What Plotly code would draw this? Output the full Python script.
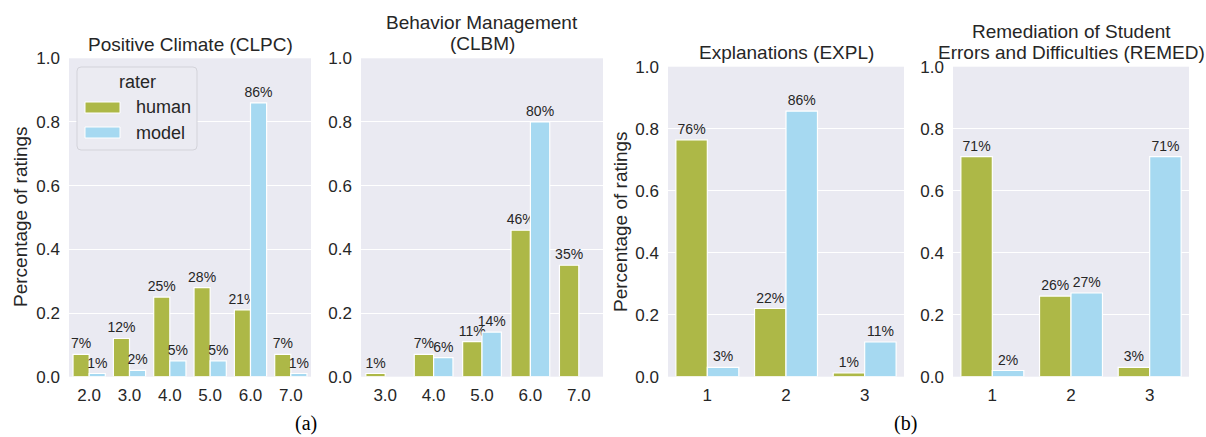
import plotly.graph_objects as go

# ---------------- data ----------------
clpc_cats = ["2.0", "3.0", "4.0", "5.0", "6.0", "7.0"]
clpc_human = [0.07, 0.12, 0.25, 0.28, 0.21, 0.07]
clpc_model = [0.01, 0.02, 0.05, 0.05, 0.86, 0.01]

clbm_cats = ["3.0", "4.0", "5.0", "6.0", "7.0"]
clbm_human = [0.01, 0.07, 0.11, 0.46, 0.35]
clbm_model = [None, 0.06, 0.14, 0.80, None]

expl_cats = ["1", "2", "3"]
expl_human = [0.764, 0.22, 0.012]
expl_model = [0.03, 0.857, 0.112]

remed_cats = ["1", "2", "3"]
remed_human = [0.71, 0.26, 0.03]
remed_model = [0.02, 0.27, 0.71]

series_names = ["human", "model"]
panel_titles = [["Positive Climate (CLPC)"],
                ["Behavior Management", "(CLBM)"],
                ["Explanations (EXPL)"],
                ["Remediation of Student", "Errors and Difficulties (REMED)"]]
y_ticks = [0.0, 0.2, 0.4, 0.6, 0.8, 1.0]
y_title = "Percentage of ratings"
legend_title = "rater"
group_labels = ["(a)", "(b)"]

# ---------------- style ----------------
W, H = 1206, 437
HUMAN_C = "#adb847"
MODEL_C = "#a6d9f1"
BG = "#eaeaf2"
TXT = "#262626"
FONT = "Liberation Sans, Arial, sans-serif"


def px(x):
    return x / W


def py(y):
    return 1 - y / H


panels = [
    (clpc_cats, clpc_human, clpc_model, (69, 311), (58.3, 376.7)),
    (clbm_cats, clbm_human, clbm_model, (361, 603), (58.3, 376.7)),
    (expl_cats, expl_human, expl_model, (668, 904), (66.7, 376.7)),
    (remed_cats, remed_human, remed_model, (953, 1189), (66.7, 376.7)),
]

fig = go.Figure()
layout = dict(
    width=W, height=H,
    margin=dict(l=0, r=0, t=0, b=0),
    paper_bgcolor="white",
    plot_bgcolor=BG,
    barmode="group",
    bargap=0.2,
    bargroupgap=0,
    showlegend=False,
    font=dict(family=FONT, color=TXT),
)


def lbl(vals):
    return [("" if v is None else f"{v:.0%}") for v in vals]


for i, (cats, hum, mod, (x0, x1), (y0, y1)) in enumerate(panels):
    n = i + 1
    xa = "x" if n == 1 else f"x{n}"
    ya = "y" if n == 1 else f"y{n}"
    for name, vals, col in [(series_names[0], hum, HUMAN_C), (series_names[1], mod, MODEL_C)]:
        fig.add_trace(go.Bar(
            x=cats, y=vals, name=name, xaxis=xa, yaxis=ya,
            marker=dict(color=col, line=dict(color="white", width=1.2)),
            text=lbl(vals), textposition="outside", constraintext="none",
            cliponaxis=False,
            textfont=dict(size=14, color=TXT, family=FONT),
            offsetgroup=name,
        ))
    layout[f"xaxis{'' if n == 1 else n}"] = dict(
        domain=[px(x0), px(x1)], anchor=ya, type="category",
        showgrid=False, zeroline=False, showline=False, ticks="",
        tickfont=dict(size=17, color=TXT, family=FONT),
        ticklabelstandoff=6, automargin=False,
    )
    layout[f"yaxis{'' if n == 1 else n}"] = dict(
        domain=[py(y1), py(y0)], anchor=xa, range=[0, 1],
        tickvals=y_ticks, tickformat=".1f",
        showgrid=True, gridcolor="white", gridwidth=1.2,
        zeroline=False, showline=False, ticks="",
        tickfont=dict(size=17, color=TXT, family=FONT),
        ticklabelstandoff=8, automargin=False,
    )

fig.update_layout(**layout)

ann = []
# panel titles
title_pos = [
    [(190, 44)],
    [(482, 22.5), (482, 43.5)],
    [(786, 52)],
    [(1071, 32), (1071, 52)],
]
for lines, poss in zip(panel_titles, title_pos):
    for t, (cx, cy) in zip(lines, poss):
        ann.append(dict(text=t, x=px(cx), y=py(cy), xref="paper", yref="paper",
                        xanchor="center", yanchor="middle", showarrow=False,
                        font=dict(size=19, color=TXT, family=FONT)))
# y-axis titles
for cx, cy in [(20, 217), (620, 222)]:
    ann.append(dict(text=y_title, x=px(cx), y=py(cy), xref="paper", yref="paper",
                    xanchor="center", yanchor="middle", showarrow=False, textangle=-90,
                    font=dict(size=19, color=TXT, family=FONT)))
# group labels
for t, cx in zip(group_labels, [306, 905]):
    ann.append(dict(text=t, x=px(cx), y=0, xref="paper", yref="paper",
                    xanchor="center", yanchor="bottom", showarrow=False,
                    font=dict(size=20, color="black", family="Liberation Serif, Times New Roman, serif")))

# legend (drawn in panel 1)
shapes = []
lx0, lx1, ly0, ly1 = 77, 197, 67, 150
r = 4
path = (f"M {px(lx0 + r)},{py(ly0)} L {px(lx1 - r)},{py(ly0)} "
        f"Q {px(lx1)},{py(ly0)} {px(lx1)},{py(ly0 + r)} "
        f"L {px(lx1)},{py(ly1 - r)} Q {px(lx1)},{py(ly1)} {px(lx1 - r)},{py(ly1)} "
        f"L {px(lx0 + r)},{py(ly1)} Q {px(lx0)},{py(ly1)} {px(lx0)},{py(ly1 - r)} "
        f"L {px(lx0)},{py(ly0 + r)} Q {px(lx0)},{py(ly0)} {px(lx0 + r)},{py(ly0)} Z")
shapes.append(dict(type="path", path=path, xref="paper", yref="paper",
                   fillcolor="#ebebf2", line=dict(color="#d3d3da", width=1), layer="above"))
for (ry0, ry1, col) in [(102, 113, HUMAN_C), (127, 138, MODEL_C)]:
    shapes.append(dict(type="rect", x0=px(85), x1=px(120), y0=py(ry1), y1=py(ry0),
                       xref="paper", yref="paper", fillcolor=col,
                       line=dict(color="white", width=1), layer="above"))
ann.append(dict(text=legend_title, x=px(137), y=py(82), xref="paper", yref="paper",
                xanchor="center", yanchor="middle", showarrow=False,
                font=dict(size=18, color=TXT, family=FONT)))
for t, cy in zip(series_names, [107, 132.5]):
    ann.append(dict(text=t, x=px(134), y=py(cy), xref="paper", yref="paper",
                    xanchor="left", yanchor="middle", showarrow=False,
                    font=dict(size=18, color=TXT, family=FONT)))

fig.update_layout(annotations=ann, shapes=shapes)
fig.write_html("out.html", config={"displayModeBar": False},
               post_script="document.body.style.margin='0';document.body.style.overflow='hidden';")
